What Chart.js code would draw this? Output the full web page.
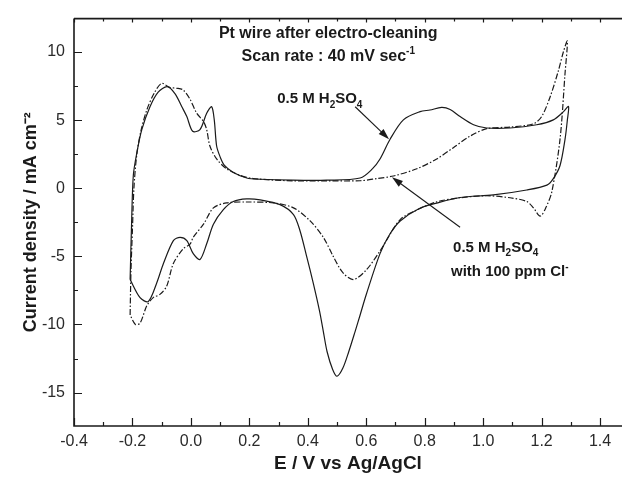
<!DOCTYPE html>
<html>
<head>
<meta charset="utf-8">
<title>CV of Pt wire</title>
<script src="https://cdn.jsdelivr.net/npm/chart.js@4.4.1/dist/chart.umd.min.js"></script>
<style>
  body { margin: 0; background: #fff; }
  #wrap { width: 622px; height: 477px; }
</style>
</head>
<body>
<div id="wrap"><canvas id="cv"></canvas></div>
<script>
// 0.5 M H2SO4 (solid), potential in V vs Ag/AgCl and current density in mA cm-2
var solidE = [-0.208,-0.203,-0.197,-0.185,-0.168,-0.140,-0.112,-0.081,-0.054,-0.031,-0.014,0.006,0.031,0.054,0.071,0.080,0.088,0.100,0.114,0.144,0.191,0.237,0.349,0.465,0.579,0.620,0.647,0.681,0.727,0.784,0.818,0.858,0.887,0.921,0.967,1.012,1.092,1.183,1.240,1.275,1.292,
  1.288,1.280,1.263,1.240,1.218,1.149,1.035,0.921,0.841,0.780,0.716,0.681,0.647,0.600,0.579,0.562,0.540,0.520,0.500,0.485,0.466,0.453,0.440,0.419,0.396,0.373,0.351,0.305,0.237,0.191,0.145,0.111,0.077,0.054,0.031,0.008,-0.014,-0.037,-0.060,-0.094,-0.117,-0.146,-0.174,-0.208];
var solidJ = [-6.7,-2.6,0.95,2.6,4.3,5.98,7.05,7.46,6.93,5.98,5.26,4.18,4.3,5.5,5.98,5.0,3.1,2.3,1.7,1.18,0.75,0.66,0.59,0.59,0.75,1.4,2.15,3.58,5.02,5.62,5.74,5.93,5.78,5.26,4.66,4.42,4.42,4.66,5.02,5.62,6.0,
  5.0,3.58,1.67,0.71,0.23,-0.13,-0.49,-0.68,-1.09,-1.5,-2.4,-3.36,-4.8,-7.8,-9.3,-10.5,-12.0,-13.2,-13.8,-13.3,-12.0,-10.5,-9.0,-7.0,-5.0,-3.1,-1.93,-1.2,-0.85,-0.78,-0.97,-1.57,-2.64,-4.08,-5.23,-4.8,-3.84,-3.6,-3.84,-5.52,-6.95,-8.32,-8.03,-6.7];

// 0.5 M H2SO4 with 100 ppm Cl- (dash-dot)
var clE = [-0.208,-0.205,-0.200,-0.195,-0.185,-0.170,-0.150,-0.125,-0.100,-0.073,-0.050,-0.027,-0.004,0.020,0.043,0.054,0.065,0.088,0.122,0.168,0.214,0.351,0.465,0.579,0.636,0.693,0.773,0.841,0.898,0.955,1.012,1.092,1.172,1.200,1.229,1.257,1.275,1.288,
  1.280,1.263,1.235,1.215,1.195,1.172,1.149,1.092,1.012,0.920,0.841,0.773,0.716,0.647,0.600,0.556,0.520,0.487,0.453,0.408,0.351,0.283,0.191,0.122,0.077,0.043,0.008,-0.003,-0.026,-0.060,-0.083,-0.106,-0.129,-0.151,-0.174,-0.190,-0.208];
var clJ = [-9.3,-6.0,-3.0,0.0,2.5,4.3,5.8,7.0,7.7,7.4,7.34,7.22,6.57,5.5,4.9,4.3,3.1,2.15,1.43,0.95,0.71,0.54,0.54,0.55,0.71,0.90,1.43,2.15,2.98,3.82,4.37,4.49,4.73,5.26,6.7,8.6,10.05,10.8,
  8.4,3.6,-0.25,-1.4,-2.05,-1.44,-0.97,-0.7,-0.55,-0.7,-1.0,-1.6,-2.3,-4.6,-6.0,-6.7,-6.2,-5.0,-3.6,-2.4,-1.44,-1.08,-1.01,-1.08,-1.44,-2.64,-3.6,-4.1,-4.44,-5.52,-7.19,-7.79,-8.03,-8.63,-9.9,-10.0,-9.3];

var xTicks = [-0.4,-0.2,0,0.2,0.4,0.6,0.8,1.0,1.2,1.4];
var xTickLabels = ['-0.4','-0.2','0.0','0.2','0.4','0.6','0.8','1.0','1.2','1.4'];
var xMinor = [-0.3,-0.1,0.1,0.3,0.5,0.7,0.9,1.1,1.3];
var yTicks = [10,5,0,-5,-10,-15];
var yTickLabels = ['10','5','0','-5','-10','-15'];
var yMinor = [7.5,2.5,-2.5,-7.5,-12.5];

function pts(xs, ys) {
  return xs.map(function(x, i) { return {x: x, y: ys[i]}; });
}

// text with sub/superscripts: parts = [[text, 0 | 1 (sub) | -1 (sup)], ...]
function richText(ctx, x, y, parts, size, align) {
  var big = 'bold ' + size + 'px "Liberation Sans", Arial, sans-serif';
  var small = 'bold ' + Math.round(size * 0.65) + 'px "Liberation Sans", Arial, sans-serif';
  var w = 0;
  parts.forEach(function(p) { ctx.font = p[1] ? small : big; w += ctx.measureText(p[0]).width; });
  var cx = align === 'center' ? x - w / 2 : x;
  ctx.textBaseline = 'alphabetic';
  ctx.textAlign = 'left';
  parts.forEach(function(p) {
    ctx.font = p[1] ? small : big;
    var dy = p[1] === 1 ? size * 0.3 : (p[1] === -1 ? -size * 0.45 : 0);
    ctx.fillText(p[0], cx, y + dy);
    cx += ctx.measureText(p[0]).width;
  });
}

function arrow(ctx, x1, y1, x2, y2) {
  var a = Math.atan2(y2 - y1, x2 - x1), L = 11, W = 3.5;
  ctx.beginPath();
  ctx.moveTo(x1, y1);
  ctx.lineTo(x2 - Math.cos(a) * L * 0.8, y2 - Math.sin(a) * L * 0.8);
  ctx.stroke();
  ctx.beginPath();
  ctx.moveTo(x2, y2);
  ctx.lineTo(x2 - Math.cos(a) * L + Math.sin(a) * W, y2 - Math.sin(a) * L - Math.cos(a) * W);
  ctx.lineTo(x2 - Math.cos(a) * L - Math.sin(a) * W, y2 - Math.sin(a) * L + Math.cos(a) * W);
  ctx.closePath();
  ctx.fill();
}

var frame = {
  id: 'frame',
  afterDraw: function(chart) {
    var ctx = chart.ctx, a = chart.chartArea;
    var xs = chart.scales.x, ys = chart.scales.y;
    ctx.save();
    ctx.strokeStyle = '#1a1a1a';
    ctx.lineWidth = 1.6;
    ctx.beginPath();
    ctx.moveTo(a.left, a.top); ctx.lineTo(a.right, a.top);
    ctx.moveTo(a.left, a.top); ctx.lineTo(a.left, a.bottom); ctx.lineTo(a.right, a.bottom);
    ctx.stroke();
    ctx.lineWidth = 1.2;
    ctx.beginPath();
    xTicks.forEach(function(v) {
      var p = Math.round(xs.getPixelForValue(v)) + 0.5;
      ctx.moveTo(p, a.bottom); ctx.lineTo(p, a.bottom - 8);
      ctx.moveTo(p, a.top); ctx.lineTo(p, a.top + 4);
    });
    xMinor.forEach(function(v) {
      var p = Math.round(xs.getPixelForValue(v)) + 0.5;
      ctx.moveTo(p, a.bottom); ctx.lineTo(p, a.bottom - 4);
      ctx.moveTo(p, a.top); ctx.lineTo(p, a.top + 3);
    });
    yTicks.forEach(function(v) {
      var p = Math.round(ys.getPixelForValue(v)) + 0.5;
      ctx.moveTo(a.left, p); ctx.lineTo(a.left + 8, p);
    });
    yMinor.forEach(function(v) {
      var p = Math.round(ys.getPixelForValue(v)) + 0.5;
      ctx.moveTo(a.left, p); ctx.lineTo(a.left + 4, p);
    });
    ctx.stroke();

    // annotations, placed in data units
    var X = function(v) { return xs.getPixelForValue(v); };
    var Y = function(v) { return ys.getPixelForValue(v); };
    ctx.fillStyle = '#1a1a1a';
    richText(ctx, X(0.47), Y(11.5) + 6, [['Pt wire after electro-cleaning', 0]], 16, 'center');
    richText(ctx, X(0.47), Y(9.78) + 6, [['Scan rate : 40 mV sec', 0], ['-1', -1]], 16, 'center');
    richText(ctx, X(0.295), Y(6.6) + 5, [['0.5 M H', 0], ['2', 1], ['SO', 0], ['4', 1]], 15, 'left');
    richText(ctx, X(0.897), Y(-4.3) + 5, [['0.5 M H', 0], ['2', 1], ['SO', 0], ['4', 1]], 15, 'left');
    richText(ctx, X(0.890), Y(-6.1) + 5, [['with 100 ppm Cl', 0], ['-', -1]], 15, 'left');
    ctx.strokeStyle = '#1a1a1a';
    ctx.lineWidth = 1.1;
    arrow(ctx, X(0.562), Y(5.98), X(0.678), Y(3.6));
    arrow(ctx, X(0.921), Y(-2.86), X(0.688), Y(0.8));
    ctx.restore();
  }
};

var tickFont = {family: '"Liberation Sans", Arial, sans-serif', size: 16};
var titleFont = {family: '"Liberation Sans", Arial, sans-serif', size: 18, weight: 'bold'};

new Chart(document.getElementById('cv'), {
  type: 'scatter',
  data: {
    datasets: [{
      label: '0.5 M H2SO4',
      data: pts(solidE, solidJ),
      showLine: true,
      borderColor: '#1a1a1a',
      borderWidth: 1.2,
      pointRadius: 0,
      tension: 0.3
    }, {
      label: '0.5 M H2SO4 with 100 ppm Cl-',
      data: pts(clE, clJ),
      showLine: true,
      borderColor: '#1a1a1a',
      borderWidth: 1.2,
      borderDash: [6, 2, 1.5, 2],
      pointRadius: 0,
      tension: 0.3
    }]
  },
  options: {
    responsive: true,
    maintainAspectRatio: false,
    animation: false,
    layout: {padding: {top: 10, right: 0, left: 0, bottom: 0}},
    plugins: {legend: {display: false}, tooltip: {enabled: false}},
    scales: {
      x: {
        type: 'linear',
        min: -0.4,
        max: 1.475,
        afterBuildTicks: function(s) { s.ticks = xTicks.map(function(v) { return {value: v}; }); },
        afterFit: function(s) { s.height = 51; },
        ticks: {
          callback: function(v, i) { return xTickLabels[i]; },
          font: tickFont, color: '#2a2a2a', padding: 6, maxRotation: 0, autoSkip: false
        },
        grid: {display: false, drawTicks: false},
        border: {display: false},
        title: {display: true, text: 'E / V vs Ag/AgCl', font: {family: '"Liberation Sans", Arial, sans-serif', size: 19, weight: 'bold'}, color: '#1a1a1a', padding: {top: 0, bottom: 2}}
      },
      y: {
        type: 'linear',
        min: -17.45,
        max: 12.45,
        afterBuildTicks: function(s) { s.ticks = yTicks.map(function(v) { return {value: v}; }); },
        afterFit: function(s) { s.width = 74; },
        ticks: {
          callback: function(v, i) { return yTickLabels[i]; },
          font: tickFont, color: '#2a2a2a', padding: 9, autoSkip: false
        },
        grid: {display: false, drawTicks: false},
        border: {display: false},
        title: {display: true, text: 'Current density / mA cm\u207B\u00B2', font: titleFont, color: '#1a1a1a', padding: {top: 20, bottom: 0}}
      }
    }
  },
  plugins: [frame]
});
</script>
</body>
</html>
